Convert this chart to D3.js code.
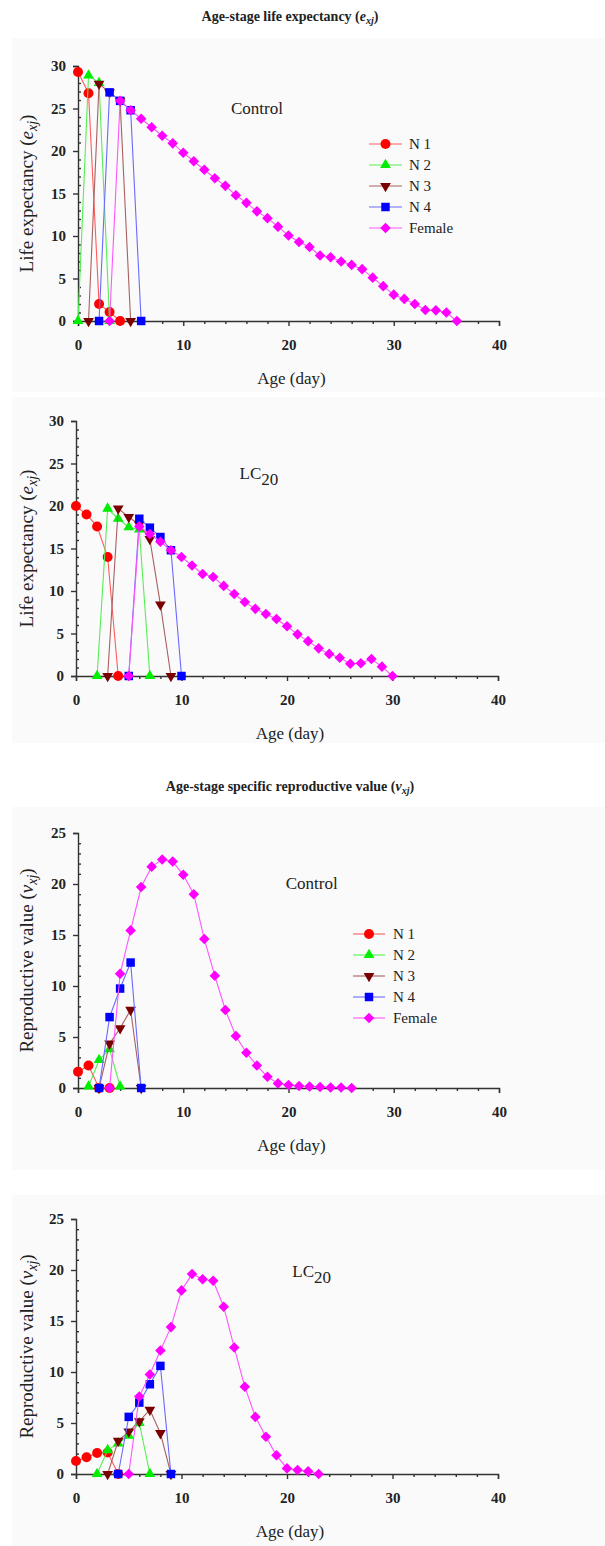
<!DOCTYPE html>
<html>
<head>
<meta charset="utf-8">
<script src="https://cdn.jsdelivr.net/npm/d3@7"></script>
<style>
  body { margin: 0; background: #fff; }
  text { font-family: "Liberation Serif", "Times New Roman", serif; fill: #222; }
</style>
</head>
<body>
<div id="chart"></div>
<script>
// ---- data ----
const stageNames = ["N 1", "N 2", "N 3", "N 4", "Female"];

// Life expectancy e_xj, control. Each series: first age, then values per day
const exjControlStart = [0, 0, 1, 2, 3];
const exjControl = [
  [29.3, 26.8, 2.0, 1.05, 0],
  [0, 28.9, 28.0, 0],
  [0, 27.9, 26.9, 25.9, 0],
  [0, 26.9, 25.9, 24.8, 0],
  [0, 25.9, 24.8, 23.8, 22.8, 21.8, 20.9, 19.8, 18.8, 17.8, 16.8, 15.9, 14.8, 13.9, 12.9,
   12.1, 11.1, 10.05, 9.3, 8.7, 7.7, 7.5, 7.0, 6.6, 6.1, 5.1, 4.1, 3.1, 2.6, 2.0, 1.3, 1.25, 1.0, 0]
];

// Life expectancy e_xj, LC20
const exjLC20Start = [0, 2, 3, 5, 5];
const exjLC20 = [
  [20.0, 19.0, 17.6, 14.0, 0],
  [0, 19.7, 18.5, 17.5, 17.25, 0],
  [0, 19.7, 18.7, 17.8, 16.1, 8.4, 0],
  [0, 18.5, 17.45, 16.35, 14.8, 0],
  [0, 17.6, 16.7, 15.8, 14.8, 14.0, 13.0, 12.0, 11.65, 10.6, 9.65, 8.7, 7.9, 7.3, 6.7,
   5.85, 4.9, 4.1, 3.25, 2.6, 2.15, 1.45, 1.5, 2.0, 1.1, 0]
];

// Reproductive value v_xj, control
const vxjControlStart = [0, 1, 2, 2, 3];
const vxjControl = [
  [1.6, 2.2, 0, 0],
  [0.15, 2.75, 3.8, 0.15],
  [0, 4.35, 5.85, 7.65, 0],
  [0, 6.95, 9.75, 12.3, 0],
  [0, 11.2, 15.45, 19.7, 21.7, 22.4, 22.2, 20.9, 19.0, 14.6, 11.0, 7.65, 5.1, 3.45, 2.2,
   1.1, 0.45, 0.3, 0.2, 0.15, 0.1, 0.05, 0.05, 0]
];

// Reproductive value v_xj, LC20
const vxjLC20Start = [0, 2, 3, 4, 5];
const vxjLC20 = [
  [1.28, 1.64, 2.06, 2.1, 0],
  [0, 2.35, 3.0, 3.75, 5.0, 0],
  [0, 3.25, 4.15, 5.15, 6.3, 4.0, 0],
  [0, 5.6, 7.0, 8.8, 10.6, 0],
  [0, 7.6, 9.75, 12.1, 14.4, 18.0, 19.6, 19.1, 18.95, 16.4, 12.4, 8.55, 5.6, 3.65, 1.83,
   0.55, 0.4, 0.26, 0]
];

const xTicks = [0, 10, 20, 30, 40];
const exjTicks = [0, 5, 10, 15, 20, 25, 30];
const vxjTicks = [0, 5, 10, 15, 20, 25];

// ---- styles ----
const markerFill = ["#ff0000", "#00ee00", "#7a0000", "#0000ff", "#ff00ff"];
const lineStroke = ["#ff5a5a", "#55ee55", "#a86060", "#6a6aff", "#ff55ff"];
const symbols = [
  { type: d3.symbolCircle, size: 78, rot: 0 },
  { type: d3.symbolTriangle, size: 50, rot: 0 },
  { type: d3.symbolTriangle, size: 50, rot: 180 },
  { type: d3.symbolSquare, size: 72, rot: 0 },
  { type: d3.symbolSquare, size: 56, rot: 45 }
];

const panels = [
  { top: 66, bottom: 321, left: 78, right: 499, ymax: 30, ticks: exjTicks,
    starts: exjControlStart, values: exjControl, ylab: "Life expectancy (", sym: "e",
    note: "Control", noteX: 17, noteY: 24.4, noteAnchor: "middle",
    legend: { y: 144, x1: 369, x2: 402, tx: 409 },
    title: "Age-stage life expectancy (", titleSym: "e", titleY: 21, box: [12, 38, 605, 392] },
  { top: 421, bottom: 676, left: 76, right: 498, ymax: 30, ticks: exjTicks,
    starts: exjLC20Start, values: exjLC20, ylab: "Life expectancy (", sym: "e",
    note: "LC", noteX: 15.5, noteY: 23.2, noteAnchor: "start", box: [12, 397, 605, 743] },
  { top: 833, bottom: 1088, left: 78, right: 499, ymax: 25, ticks: vxjTicks,
    starts: vxjControlStart, values: vxjControl, ylab: "Reproductive value (", sym: "v",
    note: "Control", noteX: 22.2, noteY: 19.5, noteAnchor: "middle",
    legend: { y: 934, x1: 353, x2: 385, tx: 393 },
    title: "Age-stage specific reproductive value (", titleSym: "v", titleY: 791, box: [12, 807, 605, 1170] },
  { top: 1219, bottom: 1474, left: 76, right: 498, ymax: 25, ticks: vxjTicks,
    starts: vxjLC20Start, values: vxjLC20, ylab: "Reproductive value (", sym: "v",
    note: "LC", noteX: 20.5, noteY: 19.3, noteAnchor: "start", box: [12, 1195, 605, 1546] }
];

const svg = d3.select("#chart").append("svg")
  .attr("width", 605)
  .attr("height", 1546);

function symbolPath(i) {
  return d3.symbol().type(symbols[i].type).size(symbols[i].size)();
}

panels.forEach(p => {
  const x = d3.scaleLinear().domain([0, 40]).range([p.left, p.right]);
  const y = d3.scaleLinear().domain([0, p.ymax]).range([p.bottom, p.top]);

  // faint background frame of the original figure
  svg.append("rect")
    .attr("x", p.box[0]).attr("y", p.box[1])
    .attr("width", p.box[2] - p.box[0]).attr("height", p.box[3] - p.box[1])
    .attr("fill", "#fafafa");

  if (p.title) {
    const t = svg.append("text")
      .attr("x", 290).attr("y", p.titleY)
      .attr("text-anchor", "middle")
      .attr("font-size", 14)
      .attr("font-weight", "bold")
      .text(p.title);
    t.append("tspan").attr("font-style", "italic").text(p.titleSym);
    t.append("tspan").attr("font-style", "italic").attr("font-size", 10).attr("dy", 3).text("xj");
    t.append("tspan").attr("dy", -3).text(")");
  }

  // axes: majors outward with labels, minors (x outward, y inward)
  const xAx = svg.append("g").attr("transform", `translate(0,${p.bottom})`)
    .call(d3.axisBottom(x).tickValues(xTicks).tickSize(5).tickPadding(13));
  svg.append("g").attr("transform", `translate(0,${p.bottom})`)
    .call(d3.axisBottom(x).tickValues(d3.range(2, 40, 2).filter(v => v % 10)).tickSize(3).tickFormat(""))
    .call(g => g.select(".domain").remove());

  const yAx = svg.append("g").attr("transform", `translate(${x(0)},0)`)
    .call(d3.axisLeft(y).tickValues(p.ticks).tickSize(5).tickPadding(7));
  svg.append("g").attr("transform", `translate(${x(0)},0)`)
    .call(d3.axisLeft(y).tickValues(d3.range(1, p.ymax, 1).filter(v => v % 5)).tickSize(-3).tickFormat(""))
    .call(g => g.select(".domain").remove());

  svg.selectAll(".domain, .tick line").attr("stroke", "#333").attr("stroke-width", 1.4);
  [xAx, yAx].forEach(a => a.selectAll("text")
    .attr("font-family", "Liberation Serif")
    .attr("font-size", 15)
    .attr("font-weight", "bold")
    .attr("fill", "#222"));

  // axis titles
  svg.append("text")
    .attr("x", (p.left + p.right) / 2 + 3)
    .attr("y", p.bottom + 63)
    .attr("text-anchor", "middle")
    .attr("font-size", 17)
    .text("Age (day)");

  const yt = svg.append("text")
    .attr("transform", `translate(33,${(p.top + p.bottom) / 2}) rotate(-90)`)
    .attr("text-anchor", "middle")
    .attr("font-size", 19)
    .text(p.ylab);
  yt.append("tspan").attr("font-style", "italic").text(p.sym);
  yt.append("tspan").attr("font-style", "italic").attr("font-size", 14).attr("dy", 4).text("xj");
  yt.append("tspan").attr("dy", -4).text(")");

  // annotation
  const note = svg.append("text")
    .attr("x", x(p.noteX)).attr("y", y(p.noteY))
    .attr("text-anchor", p.noteAnchor)
    .attr("font-size", 17)
    .text(p.note);
  if (p.note === "LC") {
    note.append("tspan").attr("dy", 6).text("20");
  }

  // series
  const line = d3.line().x(d => x(d[0])).y(d => y(d[1]));
  p.values.forEach((vals, i) => {
    const pts = vals.map((v, k) => [p.starts[i] + k, v]);
    svg.append("path")
      .attr("d", line(pts))
      .attr("fill", "none")
      .attr("stroke", lineStroke[i])
      .attr("stroke-width", 1.1);
    svg.append("g").selectAll("path")
      .data(pts)
      .join("path")
      .attr("d", symbolPath(i))
      .attr("transform", d => `translate(${x(d[0])},${y(d[1])}) rotate(${symbols[i].rot})`)
      .attr("fill", markerFill[i]);
  });

  // legend
  if (p.legend) {
    const L = p.legend;
    stageNames.forEach((name, i) => {
      const ly = L.y + i * 21;
      svg.append("line")
        .attr("x1", L.x1).attr("x2", L.x2).attr("y1", ly).attr("y2", ly)
        .attr("stroke", lineStroke[i]).attr("stroke-width", 1.1);
      svg.append("path")
        .attr("d", symbolPath(i))
        .attr("transform", `translate(${(L.x1 + L.x2) / 2},${ly}) rotate(${symbols[i].rot})`)
        .attr("fill", markerFill[i]);
      svg.append("text")
        .attr("x", L.tx).attr("y", ly)
        .attr("dy", "0.35em")
        .attr("font-size", 15)
        .text(name);
    });
  }
});
</script>
</body>
</html>
